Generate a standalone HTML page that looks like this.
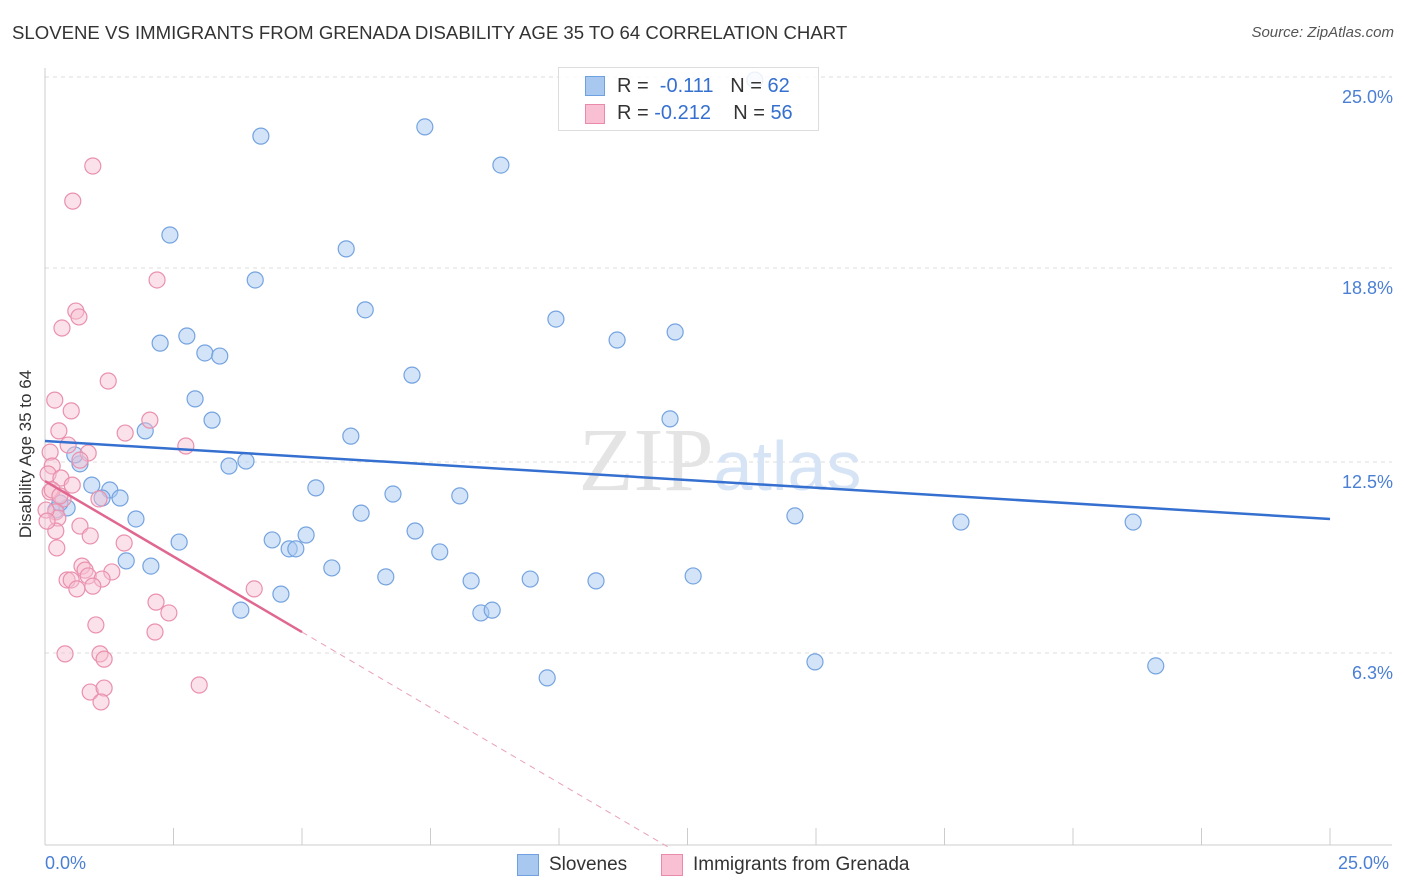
<!DOCTYPE html>
<html><head><meta charset="utf-8"><style>
body{margin:0;background:#fff;font-family:"Liberation Sans",sans-serif;}
#wrap{position:relative;width:1406px;height:892px;overflow:hidden;}
.t{position:absolute;white-space:nowrap;}
</style></head><body>
<div id="wrap">
<div class="t" style="left:12px;top:22px;font-size:18.6px;color:#333;">SLOVENE VS IMMIGRANTS FROM GRENADA DISABILITY AGE 35 TO 64 CORRELATION CHART</div>
<div class="t" style="right:12px;top:24px;font-size:15px;color:#555;font-style:italic;">Source: ZipAtlas.com</div>
<div class="t" style="left:-58px;top:444px;font-size:17px;color:#333;transform:rotate(-90deg);">Disability Age 35 to 64</div>
<svg id="svg" width="1406" height="892" style="position:absolute;left:0;top:0;"></svg>
</div>
<script>
const blueX=[13.81,4.20,7.39,8.87,2.43,5.86,4.09,6.23,9.94,11.13,12.26,2.24,2.76,3.11,3.40,7.14,2.92,3.25,12.16,1.95,5.95,0.68,3.58,3.91,0.91,5.27,1.26,6.77,8.07,1.11,1.46,0.21,0.43,1.77,6.15,14.59,17.82,21.17,2.61,4.42,4.75,4.88,5.08,7.20,7.68,1.58,2.06,5.58,6.63,8.29,9.44,10.72,12.61,4.59,3.81,8.48,8.70,14.98,21.61,9.77,0.58,0.29];
const blueY=[24.90,23.08,23.38,22.14,19.87,19.42,18.41,17.44,17.14,16.46,16.72,16.36,16.59,16.04,15.94,15.32,14.55,13.86,13.90,13.51,13.34,12.44,12.37,12.53,11.75,11.66,11.59,11.46,11.40,11.33,11.33,10.94,11.01,10.65,10.84,10.75,10.55,10.55,9.90,9.97,9.68,9.68,10.13,10.26,9.58,9.29,9.12,9.06,8.77,8.64,8.70,8.64,8.80,8.21,7.69,7.60,7.69,6.01,5.88,5.49,12.73,11.17];
const pinkX=[0.93,0.54,2.18,0.60,0.66,0.33,1.23,0.19,0.51,2.04,1.56,2.74,0.27,0.45,0.84,0.10,0.14,0.68,0.06,0.31,0.53,0.10,0.35,1.05,0.21,0.25,0.68,0.21,0.88,1.54,0.23,0.72,0.78,1.30,0.43,0.51,0.84,1.11,0.62,0.93,2.16,2.41,0.99,2.14,4.07,0.39,1.07,1.15,3.00,0.88,1.15,1.09,0.02,0.04,0.14,0.29];
const pinkY=[22.11,20.97,18.41,17.40,17.21,16.85,15.13,14.51,14.16,13.86,13.44,13.02,13.51,13.05,12.79,12.82,12.37,12.56,12.11,11.98,11.75,11.53,11.30,11.30,10.88,10.68,10.42,10.26,10.10,9.87,9.71,9.12,8.99,8.93,8.67,8.67,8.80,8.70,8.38,8.47,7.95,7.60,7.21,6.98,8.38,6.27,6.27,6.10,5.26,5.03,5.16,4.71,10.94,10.58,11.59,11.40];
const blueTrend=[13.18,10.65];   // y at x=0 and x=25
const pinkTrend=[11.88,-0.98];   // intercept, slope
const yTicks=[25.0,18.8,12.5,6.3];
const yTickLabels=["25.0%","18.8%","12.5%","6.3%"];
const X0=45,X1=1330,YB=847,YT=77;
const xs=v=>X0+(v/25)*(X1-X0);
const ys=v=>YB-(v/25)*(YB-YT);
const svg=document.getElementById('svg');const NS='http://www.w3.org/2000/svg';
function mk(tag,at,name){const e=document.createElementNS(NS,tag);for(const k in at)e.setAttribute(k,at[k]);


svg.appendChild(e);return e;}
yTicks.forEach((t,i)=>{const y=ys(t);mk('line',{x1:X0,x2:1392,y1:y,y2:y,stroke:'#ddd','stroke-dasharray':'4,4'},'y-gridline');
const tx=mk('text',{x:1393,y:y+26,'text-anchor':'end','font-size':18,fill:'#4a7fd4','font-family':'Liberation Sans'},'y-tick-label');tx.textContent=yTickLabels[i];});
mk('line',{x1:X0,x2:X0,y1:68,y2:YB-2,stroke:'#ccc'},'y-axis-line');
mk('line',{x1:X0,x2:1392,y1:YB-2,y2:YB-2,stroke:'#ccc'},'x-axis-line');
for(let i=0;i<=10;i++){const x=xs(i*2.5);mk('line',{x1:x,x2:x,y1:828,y2:YB-2,stroke:'#ccc'},'x-tick');}
const wm=mk('text',{x:720,y:490,'text-anchor':'middle','font-size':90,fill:'#e4e4e4','font-family':'Liberation Serif'},'watermark');wm.innerHTML='ZIP<tspan fill="#d6e4f5" font-family="Liberation Sans" font-size="70">atlas</tspan>';
blueX.forEach((v,i)=>mk('circle',{cx:xs(v),cy:ys(blueY[i]),r:8,fill:'rgba(170,202,242,0.5)',stroke:'#74a3e0','stroke-width':1.2},'slovene-point'));
pinkX.forEach((v,i)=>mk('circle',{cx:xs(v),cy:ys(pinkY[i]),r:8,fill:'rgba(247,190,208,0.45)',stroke:'#ea90ad','stroke-width':1.2},'grenada-point'));
mk('line',{x1:xs(0),y1:ys(blueTrend[0]),x2:xs(25),y2:ys(blueTrend[1]),stroke:'#3570d0','stroke-width':2.5},'slovene-trend-line');
const pz=-pinkTrend[0]/pinkTrend[1];
mk('line',{x1:xs(0),y1:ys(pinkTrend[0]),x2:xs(5),y2:ys(pinkTrend[0]+5*pinkTrend[1]),stroke:'#e06890','stroke-width':2.5},'grenada-trend-line');
mk('line',{x1:xs(5),y1:ys(pinkTrend[0]+5*pinkTrend[1]),x2:xs(pz),y2:ys(0),stroke:'#e8a0b8','stroke-width':1,'stroke-dasharray':'6,5'},'grenada-trend-extension');
</script>
<div class="t" style="left:558px;top:67px;width:259px;height:62px;border:1px solid #ddd;background:rgba(255,255,255,0.85);font-size:20px;">
<div style="position:absolute;left:26px;top:8px;width:18px;height:18px;background:#a8c8f0;border:1px solid #6fa0e0;"></div>
<div class="t" style="left:58px;top:7px;color:#333;">R = <span style="color:#3570d0">&nbsp;-0.111</span>&nbsp;&nbsp; N = <span style="color:#3570d0">62</span></div>
<div style="position:absolute;left:26px;top:36px;width:18px;height:18px;background:#f8c0d2;border:1px solid #e88aa8;"></div>
<div class="t" style="left:58px;top:34px;color:#333;">R = <span style="color:#3570d0">-0.212</span>&nbsp;&nbsp;&nbsp; N = <span style="color:#3570d0">56</span></div>
</div>
<div class="t" style="left:45px;top:853px;font-size:18px;color:#4a7fd4;">0.0%</div>
<div class="t" style="left:1338px;top:853px;font-size:18px;color:#4a7fd4;">25.0%</div>
<div style="position:absolute;left:517px;top:854px;width:20px;height:20px;background:#a8c8f0;border:1px solid #6fa0e0;"></div>
<div class="t" style="left:549px;top:854px;font-size:19px;color:#333;">Slovenes</div>
<div style="position:absolute;left:661px;top:854px;width:20px;height:20px;background:#f8c0d2;border:1px solid #e88aa8;"></div>
<div class="t" style="left:693px;top:854px;font-size:19px;color:#333;">Immigrants from Grenada</div>
</body></html>
